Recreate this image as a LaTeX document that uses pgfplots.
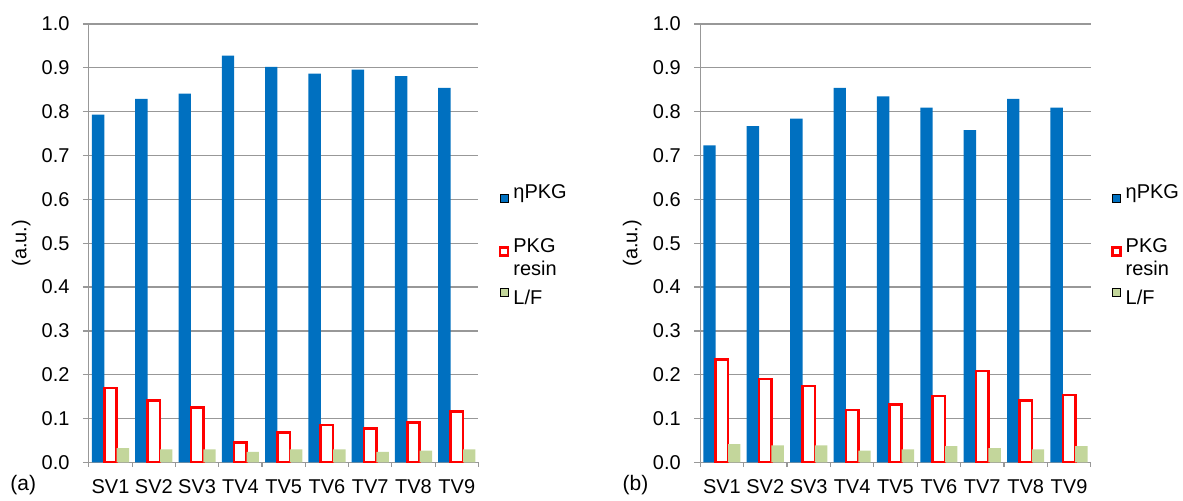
\documentclass[border=0pt]{standalone}
\usepackage{pgfplots}
\usepackage{pgfplotstable}
\usepackage{fontspec}
\setmainfont{Liberation Sans}
\pgfplotsset{compat=1.18}

\definecolor{barblue}{HTML}{0070C0}
\definecolor{bargreen}{HTML}{C3D69B}
\definecolor{barred}{HTML}{FF0000}
\definecolor{gridgray}{HTML}{989898}

% (a) panel
\pgfplotstableread{
x eta   resin lf
0 0.793 0.170 0.033
1 0.829 0.142 0.030
2 0.841 0.126 0.030
3 0.928 0.046 0.024
4 0.902 0.068 0.030
5 0.887 0.085 0.030
6 0.896 0.078 0.024
7 0.881 0.091 0.027
8 0.854 0.116 0.030
}\tableA

% (b) panel
\pgfplotstableread{
x eta   resin lf
0 0.723 0.235 0.042
1 0.767 0.190 0.039
2 0.784 0.174 0.039
3 0.854 0.120 0.027
4 0.835 0.132 0.030
5 0.809 0.152 0.037
6 0.758 0.209 0.033
7 0.829 0.142 0.030
8 0.809 0.154 0.037
}\tableB

\pgfplotsset{
  pkgpanel/.style={
    scale only axis,
    height=219.5pt,
    xmin=-0.5, xmax=8.5, ymin=0, ymax=1,
    ybar,
    axis lines*=left,
    axis line style={draw=gridgray, line width=0.6pt, -},
    tick align=outside,
    major tick length=3pt,
    minor tick length=2.2pt,
    xtick={0,...,8},
    xticklabels={SV1,SV2,SV3,TV4,TV5,TV6,TV7,TV8,TV9},
    minor xtick={-0.5,0.5,...,8.5},
    every major x tick/.append style={draw=none},
    every minor x tick/.append style={draw=gridgray, line width=0.6pt},
    every major y tick/.append style={draw=gridgray, line width=0.6pt},
    ytick={0,0.1,0.2,0.3,0.4,0.5,0.6,0.7,0.8,0.9,1.0},
    ymajorgrids,
    major grid style={draw=gridgray, line width=0.6pt},
    /pgf/number format/assume math mode=true,
    tick label style={font=\fontsize{10}{12}\selectfont},
    yticklabel style={/pgf/number format/fixed, /pgf/number format/fixed zerofill,
      /pgf/number format/precision=1, xshift=-3.2pt},
    xticklabel style={yshift=-2pt},
    ylabel={(a.u.)},
    every axis y label/.style={at={(axis description cs:-0.174,0.5)}, rotate=90,
      anchor=center, font=\fontsize{10}{12}\selectfont},
    legend cell align=left,
    legend image code/.code={\draw[##1] (0pt,1.6pt) rectangle (4pt,5.6pt);},
    legend style={at={(rel axis cs:1,0.5)}, anchor=west, xshift=10pt, yshift=-1.5pt,
      draw=none, fill=none, inner sep=0pt, row sep=2pt,
      font=\fontsize{10}{11.5}\selectfont,
      cells={anchor=west, align=left}},
  },
  etabar/.style={bar width=6.2pt, bar shift=-6.2pt, fill=barblue, draw=none},
  resinbar/.style={bar width=6.2pt, bar shift=0pt, fill=white, draw=barred, line width=1.3pt},
  lfbar/.style={bar width=6.2pt, bar shift=6.2pt, fill=bargreen, draw=none},
}

\begin{document}
\begin{tikzpicture}
\path (0,0) rectangle (591.5pt,249pt);

\begin{axis}[pkgpanel, width=195pt, at={(44.5pt,17.5pt)}, anchor=south west]
  \addplot[etabar] table[x=x, y=eta] {\tableA};
  \addlegendentry[text depth=14pt]{ηPKG}
  \addplot[resinbar] table[x=x, y=resin] {\tableA};
  \addlegendentry{PKG\\resin}
  \addplot[lfbar] table[x=x, y=lf] {\tableA};
  \addlegendentry{L/F}
\end{axis}

\begin{axis}[pkgpanel, width=195.5pt, at={(350.5pt,17.5pt)}, anchor=south west]
  \addplot[etabar] table[x=x, y=eta] {\tableB};
  \addlegendentry[text depth=14pt]{ηPKG}
  \addplot[resinbar] table[x=x, y=resin] {\tableB};
  \addlegendentry{PKG\\resin}
  \addplot[lfbar] table[x=x, y=lf] {\tableB};
  \addlegendentry{L/F}
\end{axis}

\node[anchor=base west, font=\fontsize{10.5}{12}\selectfont, inner sep=0pt] at (5pt,3.5pt) {(a)};
\node[anchor=base west, font=\fontsize{10.5}{12}\selectfont, inner sep=0pt] at (311.5pt,3.5pt) {(b)};
\end{tikzpicture}
\end{document}
